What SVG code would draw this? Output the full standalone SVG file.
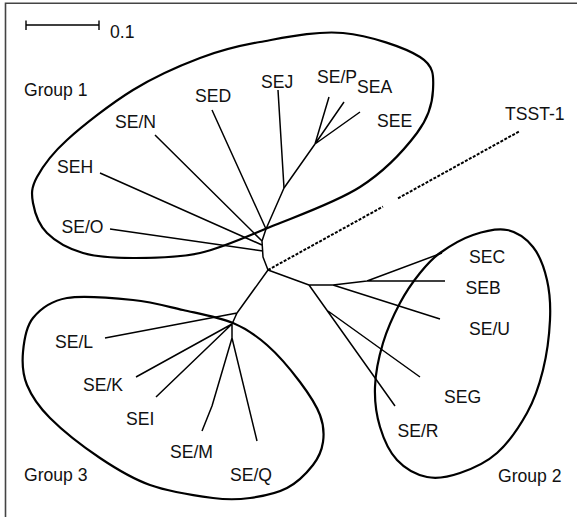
<svg xmlns="http://www.w3.org/2000/svg" width="577" height="517" viewBox="0 0 577 517">
<style>
.lbl{font-family:"Liberation Sans",Arial,sans-serif;font-size:17.6px;fill:#111}
.grp{fill:none;stroke:#000;stroke-width:2.2}
.br{fill:none;stroke:#000;stroke-width:1.5;stroke-linejoin:round}
.ds{fill:none;stroke:#000;stroke-width:2;stroke-dasharray:3 1.5}
</style>
<rect width="577" height="517" fill="#fff"/>
<path d="M5.5 517 V3.3 H577" fill="none" stroke="#444" stroke-width="1.6"/>
<g id="scale">
<path d="M26 25 H99 M26 20.5 V30 M99 20.5 V30" fill="none" stroke="#000" stroke-width="1.4"/>
<text class="lbl" x="110" y="37.5">0.1</text>
</g>
<g id="group1">
<path class="grp" d="M33 203 C31.3 193.7 31.3 187.5 37 177 C42.7 166.5 51 154.5 67 140 C83 125.5 110.8 103.7 133 90 C155.2 76.3 178.8 66 200 58 C221.2 50 236.2 46.2 260 42 C283.8 37.8 316.3 30.5 343 33 C369.7 35.5 405 47.5 420 57 C435 66.5 433.5 77.3 433 90 C432.5 102.7 429.2 116.8 417 133 C404.8 149.2 384.5 171.3 360 187 C335.5 202.7 296.7 216 270 227 C243.3 238 222.8 247.8 200 253 C177.2 258.2 152.5 258 133 258 C113.5 258 97.3 257.2 83 253 C68.7 248.8 55.3 241.3 47 233 C38.7 224.7 34.7 212.3 33 203 Z"/>
<text class="lbl" x="24" y="96">Group 1</text>
</g>
<g id="group2">
<path class="grp" d="M473 235 C484.2 231.2 497 228 507 230 C517 232 526.3 238.7 533 247 C539.7 255.3 544.2 267.8 547 280 C549.8 292.2 550.7 305 550 320 C549.3 335 546.8 354.5 543 370 C539.2 385.5 534.7 399.2 527 413 C519.3 426.8 508.2 443 497 453 C485.8 463 471.7 469 460 473 C448.3 477 437.5 479.2 427 477 C416.5 474.8 404.8 468.3 397 460 C389.2 451.7 383.7 439.2 380 427 C376.3 414.8 374.5 401 375 387 C375.5 373 378.8 357 383 343 C387.2 329 393.8 314.7 400 303 C406.2 291.3 413.3 281.3 420 273 C426.7 264.7 431.2 259.3 440 253 C448.8 246.7 461.8 238.8 473 235 Z"/>
<text class="lbl" x="498" y="481.5">Group 2</text>
</g>
<g id="group3">
<path class="grp" d="M33 318 C40.3 309 50.3 301 67 298 C83.7 295 113.7 298 133 300 C152.3 302 166.3 306.2 183 310 C199.7 313.8 219 317.2 233 323 C247 328.8 255.8 335.2 267 345 C278.2 354.8 291.2 370.3 300 382 C308.8 393.7 316.2 405 320 415 C323.8 425 324.2 433.7 323 442 C321.8 450.3 319 457.3 313 465 C307 472.7 297.5 482.5 287 488 C276.5 493.5 262.3 496.3 250 498 C237.7 499.7 229.7 500.2 213 498 C196.3 495.8 168.8 491.7 150 485 C131.2 478.3 116.7 469.2 100 458 C83.3 446.8 62.2 430.2 50 418 C37.8 405.8 31.5 396 27 385 C22.5 374 22 363.2 23 352 C24 340.8 25.7 327 33 318 Z"/>
<text class="lbl" x="24" y="481">Group 3</text>
</g>
<g id="connectors">
<path class="br" d="M268 270 L263 257 L262 241 L266 229 L284 188 L315 144"/>
<path class="br" d="M110 229 L263 251 M100 173 L262 245 M155 135 L262 241 M212 110 L266 229 M278 90 L284 188 M329 97 L315 144 M344 102 L315 144 M360 112 L315 144"/>
<path class="br" d="M268 270 L237 313 L232 324 L232 338 M105 338 L237 313 M136 377 L232 324 M156 397 L232 324 M232 338 L212 406 L202 431 M232 338 L257 441"/>
<path class="br" d="M268 270 L309 285 L333 285 L367 281 L445 281 M367 281 L442 253 M333 285 L440 319 M309 285 L395 406 M328 311 L420 377"/>
<path class="ds" d="M268 270 L383 206.6 M398 198.3 L520 131"/>
</g>
<g id="labels">
<text class="lbl" x="195" y="101.5">SED</text>
<text class="lbl" x="261" y="88.3">SEJ</text>
<text class="lbl" x="317" y="83.3">SE/P</text>
<text class="lbl" x="357" y="92.7">SEA</text>
<text class="lbl" x="377" y="127.3">SEE</text>
<text class="lbl" x="115" y="127.5">SE/N</text>
<text class="lbl" x="57" y="172.7">SEH</text>
<text class="lbl" x="61.5" y="233.3">SE/O</text>
<text class="lbl" x="505" y="120">TSST-1</text>
<text class="lbl" x="469" y="262.7">SEC</text>
<text class="lbl" x="465.5" y="294">SEB</text>
<text class="lbl" x="469" y="335">SE/U</text>
<text class="lbl" x="444" y="403.3">SEG</text>
<text class="lbl" x="397.5" y="436.7">SE/R</text>
<text class="lbl" x="55" y="348.3">SE/L</text>
<text class="lbl" x="83" y="391">SE/K</text>
<text class="lbl" x="126" y="425">SEI</text>
<text class="lbl" x="170" y="458.3">SE/M</text>
<text class="lbl" x="230" y="481">SE/Q</text>
</g>
</svg>
